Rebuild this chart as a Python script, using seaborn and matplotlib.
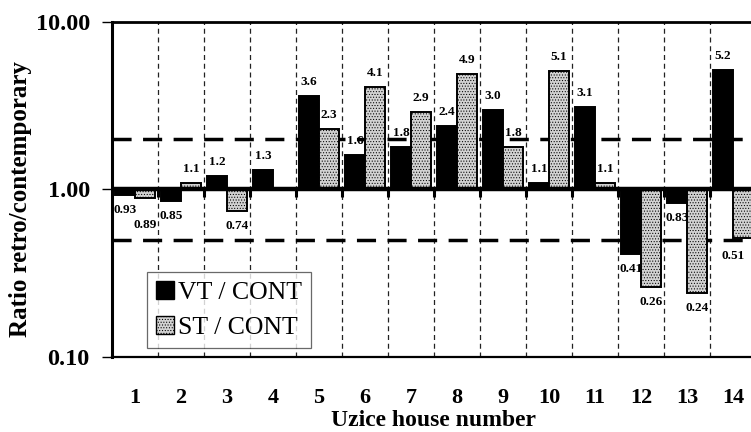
import numpy as np
import pandas as pd
import matplotlib
matplotlib.use("Agg")
import matplotlib.pyplot as plt
from matplotlib.patches import Patch
import seaborn as sns

# Ratio of retrospective to contemporary measurements per house
houses = [str(i) for i in range(1, 15)]
vt_cont = [0.93, 0.85, 1.2, 1.3, 3.6, 1.6, 1.8, 2.4, 3.0, 1.1, 3.1, 0.41, 0.83, 5.2]
st_cont = [0.89, 1.1, 0.74, np.nan, 2.3, 4.1, 2.9, 4.9, 1.8, 5.1, 1.1, 0.26, 0.24, 0.51]
series_names = ["VT / CONT", "ST / CONT"]
y_ticks = [0.1, 1.0, 10.0]
y_tick_labels = ["0.10", "1.00", "10.00"]
limits = [0.5, 2.0]

sns.set_theme(style="white")
plt.rcParams["font.family"] = ["Liberation Serif", "DejaVu Serif"]
plt.rcParams["hatch.linewidth"] = 0.45
for key in ["text.color", "axes.labelcolor", "xtick.color", "ytick.color"]:
    plt.rcParams[key] = "black"

df = pd.DataFrame({
    "house": houses * 2,
    "series": [series_names[0]] * len(houses) + [series_names[1]] * len(houses),
    "ratio": vt_cont + st_cont,
})
# bars grow up or down from a ratio of 1 on a logarithmic axis
df["log_ratio"] = np.log10(df["ratio"])

fig = plt.figure(figsize=(7.51, 4.32), dpi=100)
ax = fig.add_axes([0.1491, 0.1736, 0.8575, 0.7755])

black = "#000000"
grey = "#d2d2d2"
sns.barplot(data=df, x="house", y="log_ratio", hue="series", order=houses,
            hue_order=series_names, palette=[black, grey], width=0.87, gap=0,
            edgecolor="black", linewidth=1.4, errorbar=None, legend=False,
            ax=ax, zorder=3)

for bar in ax.containers[1]:
    bar.set_hatch("......")

n = len(houses)
ax.set_xlim(-0.5, n - 0.5)
ax.set_ylim(-1, 1)

# category separators
for b in np.arange(0.5, n - 0.5, 1.0):
    ax.axvline(b, color="#222222", lw=0.9, ls=(0, (4, 3)), zorder=1)
# small ticks hanging below the unity line
ax.vlines(np.arange(0.5, n - 0.5, 1.0), -0.045, 0, color="black", lw=2.2, zorder=4)
ax.axhline(0, color="black", lw=3.2, zorder=4)
for lim in limits:
    ax.axhline(np.log10(lim), color="black", lw=2.5, ls=(0, (5.5, 3.3)), zorder=2)

# value labels; a few are shifted so they stay clear of neighbours
nudges = {(1, 0): (0, -12), (1, 13): (-10, -3)}
for s, vals in enumerate([vt_cont, st_cont]):
    for i, v in enumerate(vals):
        if np.isnan(v):
            continue
        txt = f"{v:.1f}" if v >= 1 else f"{v:.2f}"
        xoff = (-0.87 / 4 if s == 0 else 0.87 / 4)
        dx, dy = nudges.get((s, i), (0, 0))
        dy += 14 if v >= 1 else -15
        ax.annotate(txt, (i + xoff, np.log10(v)), xytext=(dx, dy),
                    textcoords="offset pixels", ha="center", va="center",
                    fontsize=9.5, fontweight="bold", zorder=5)

ax.set_yticks(np.log10(y_ticks))
ax.set_yticklabels(y_tick_labels, fontsize=17.5, fontweight="bold")
ax.set_xticks(range(n))
ax.set_xticklabels(houses, fontsize=16, fontweight="bold")
ax.tick_params(axis="x", length=0, pad=22)
ax.tick_params(axis="y", left=True, length=7, width=1, pad=9, color="black")

ax.set_xlabel("Uzice house number", fontsize=17, fontweight="bold", labelpad=2)
ax.set_ylabel("Ratio retro/contemporary", fontsize=18, fontweight="bold")
ax.yaxis.set_label_coords(-0.124, 0.47)

for side, lw in [("top", 2.0), ("left", 2.2), ("bottom", 1.6), ("right", 2.0)]:
    ax.spines[side].set_color("black")
    ax.spines[side].set_linewidth(lw)

handles = [Patch(facecolor=black, edgecolor="black"),
           Patch(facecolor=grey, edgecolor="black", hatch="......")]
leg = ax.legend(handles, series_names, loc="lower left",
                bbox_to_anchor=(0.054, 0.027), frameon=True, fancybox=False,
                fontsize=18.5, handlelength=0.72, handleheight=0.72,
                handletextpad=0.15, labelspacing=0.45, borderpad=0.35,
                borderaxespad=0)
leg.get_frame().set_edgecolor("#444444")
leg.get_frame().set_linewidth(0.9)
leg.set_zorder(6)

fig.savefig("out.png", dpi=100)
